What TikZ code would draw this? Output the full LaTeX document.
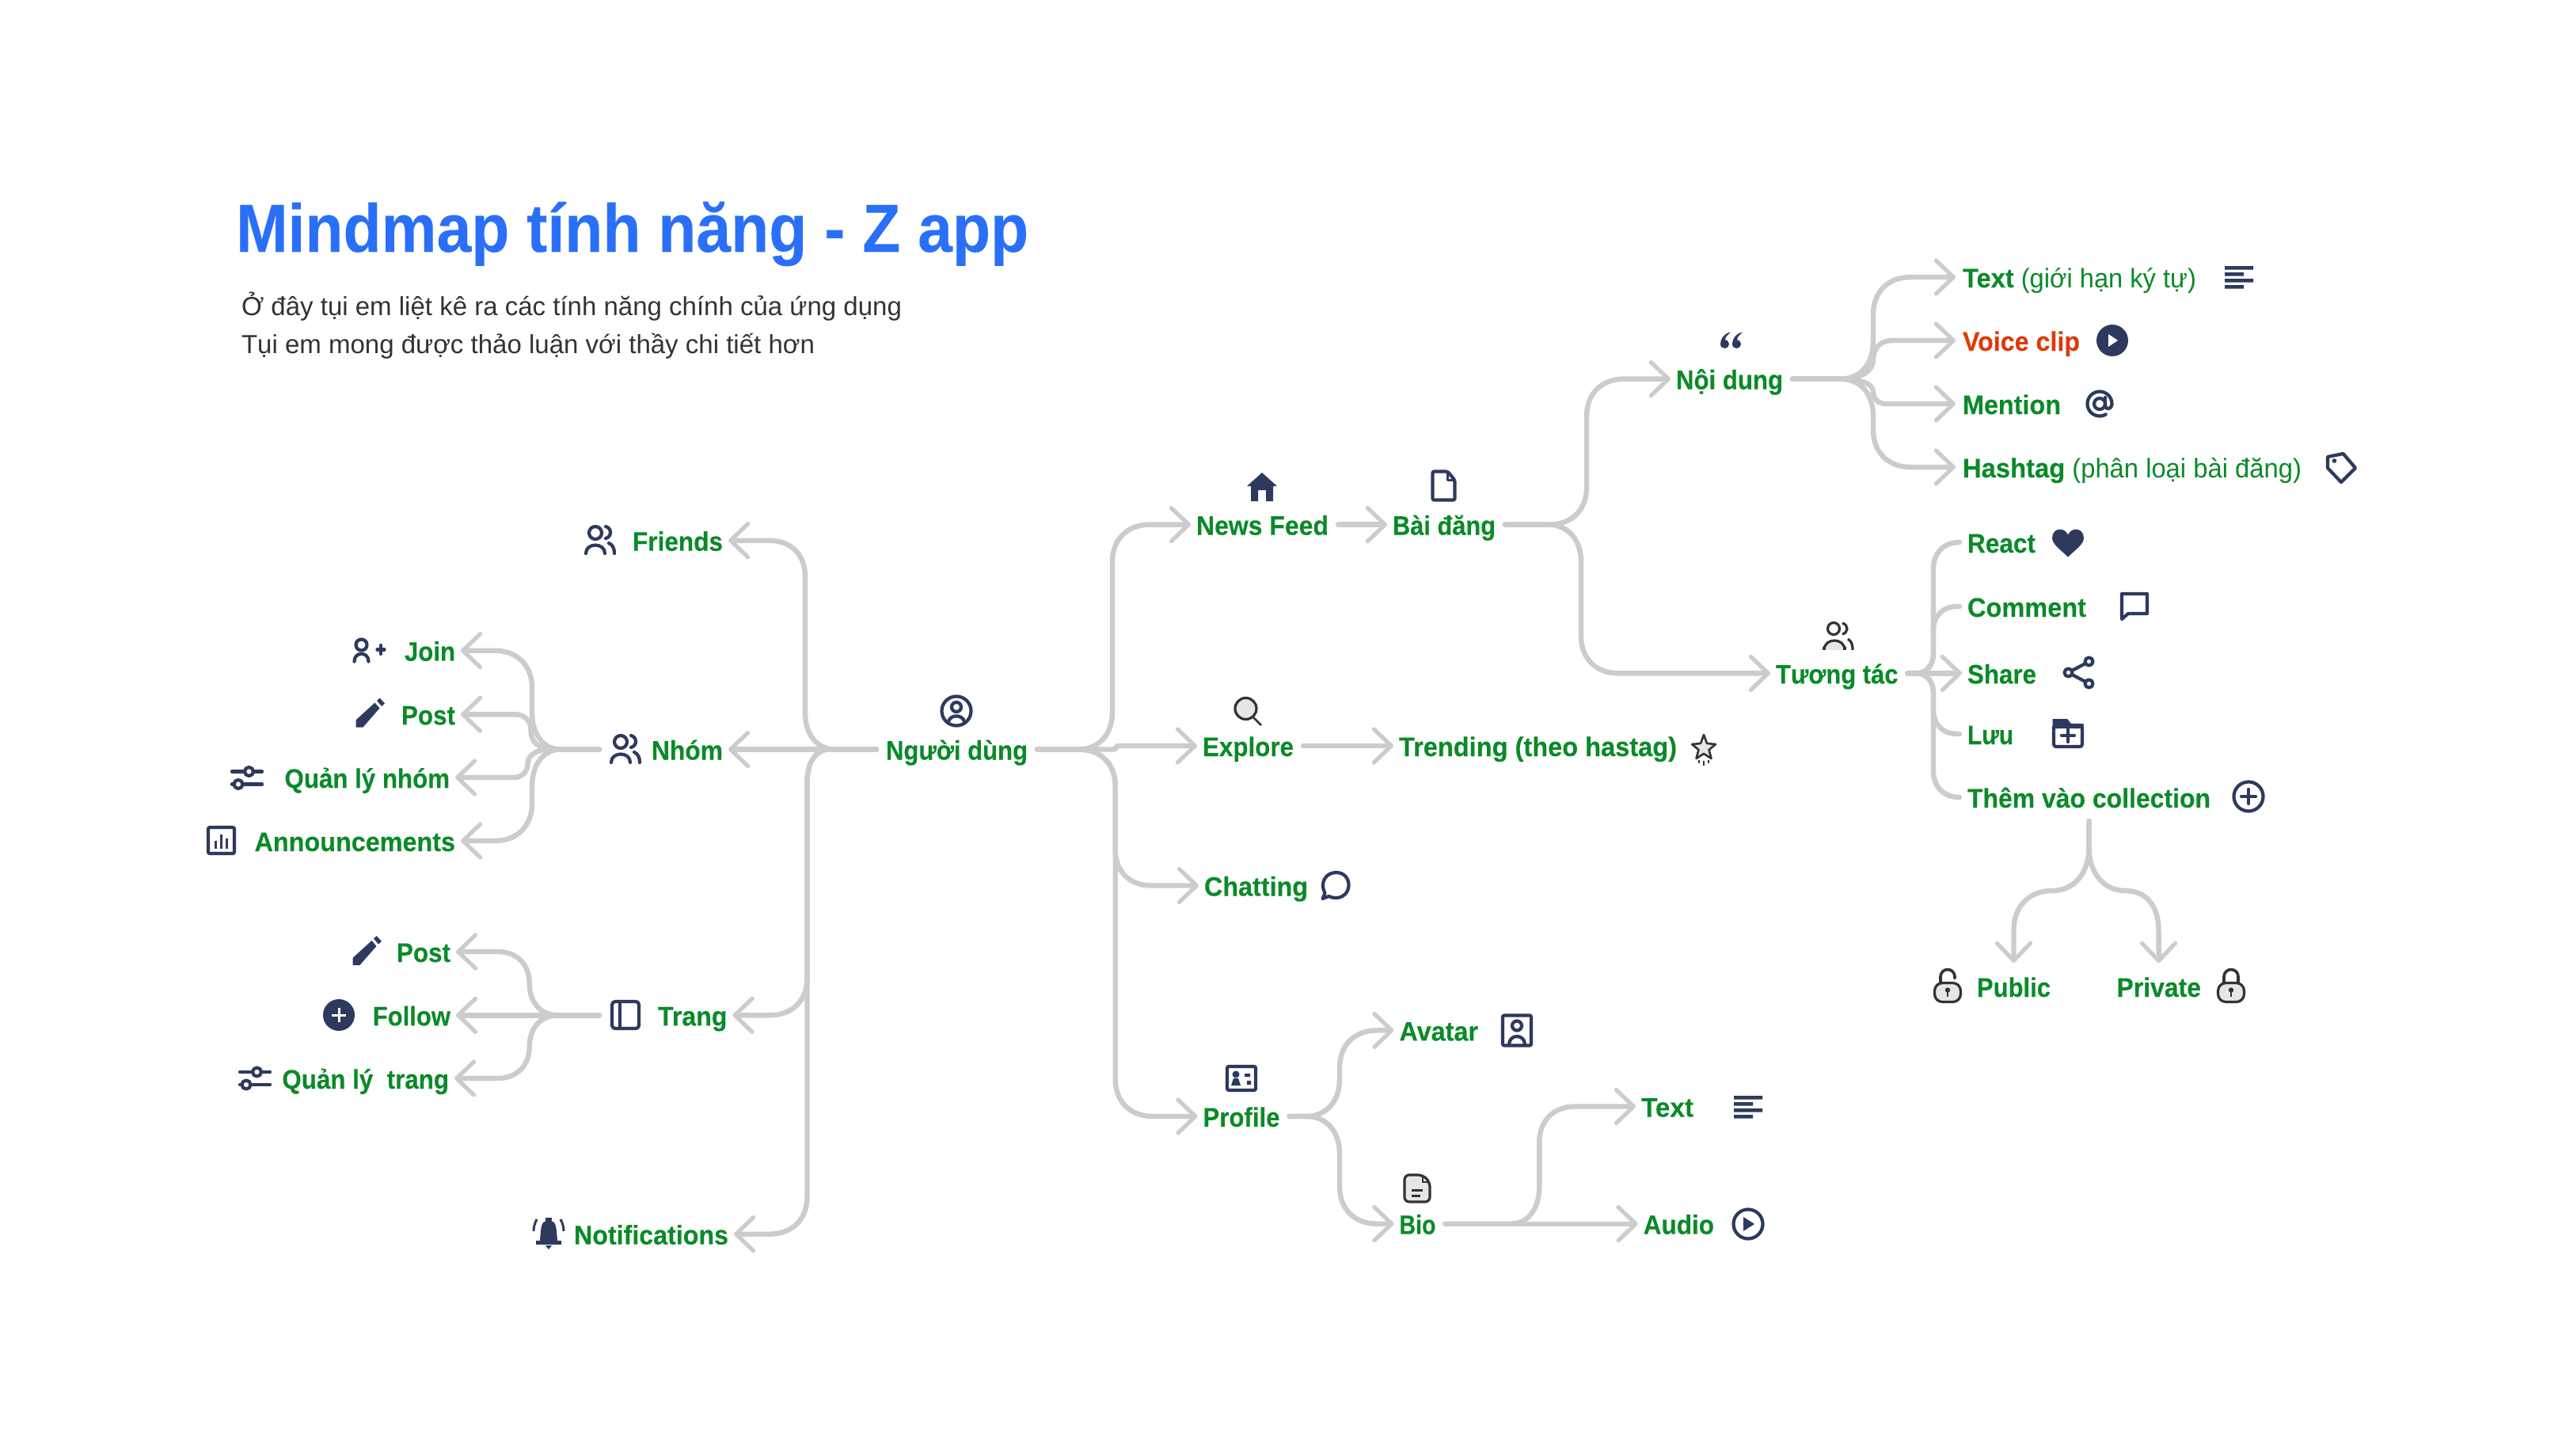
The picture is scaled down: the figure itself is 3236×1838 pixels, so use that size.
\documentclass[tikz,border=0pt]{standalone}
\usepackage{fontspec}
\usepackage{graphicx}
\setmainfont[BoldFeatures={FakeBold=0.12}]{Liberation Sans}
\usetikzlibrary{arrows.meta,calc}
\definecolor{gline}{HTML}{CDCBCB}
\definecolor{gtext}{HTML}{0A8A28}
\definecolor{rtext}{HTML}{DE3A09}
\definecolor{btitle}{HTML}{2A6FF8}
\definecolor{navy}{HTML}{2D3A5E}
\definecolor{dark}{HTML}{333333}
\definecolor{pale}{HTML}{E6E6E6}
\newcommand\fitw[2]{\resizebox{\dimexpr #1pt/2\relax}{\height}{#2}}
\tikzset{
  conn/.style={draw=gline,line width=3.2pt,line cap=round,line join=round,shorten <=2.5pt},
  arrowed/.style={-{Straight Barb[length=11pt,width=21pt,line width=2.6pt,round]}},
  plainend/.style={shorten >=1.5pt},
  lab/.style={inner xsep=3.5pt,inner ysep=0pt,outer sep=0pt,text height=14.5pt,text depth=1.5pt,
    font=\fontsize{17}{20}\selectfont\bfseries,text=gtext},
  titletext/.style={anchor=base west,inner sep=0pt,outer sep=0pt,text=btitle,
    font=\fontsize{43}{48}\selectfont\bfseries},
  subtext/.style={anchor=base west,inner sep=0pt,outer sep=0pt,text=dark,
    font=\fontsize{16.5}{19}\selectfont},
  icl/.style={draw=navy,line width=2.1pt,line cap=round,line join=round},
  icd/.style={draw=dark,line width=1.6pt,fill=pale,line cap=round,line join=round},
}
% label: [options]{name}{text left}{line y}{text width}{text}
\newcommand\lab[6][]{\node[lab,anchor=west,#1] (#2) at (#3-7,#4) {\fitw{#5}{#6}};}
% connector: [style]{from}{to}{vertical x}{first dx}{first ry}{second r}
\newcommand\curv[7][]{%
  \path (#2); \pgfgetlastxy{\mXa}{\mYa}%
  \path (#3); \pgfgetlastxy{\mXb}{\mYb}%
  \pgfmathsetmacro\mSx{\mXb>\mXa?1:-1}%
  \pgfmathsetmacro\mSy{\mYb>\mYa?1:-1}%
  \pgfmathsetmacro\mV{#4/2}%
  \pgfmathsetmacro\mPx{\mV-\mSx*#5/2}%
  \pgfmathsetmacro\mCx{\mV-\mSx*#5/2*0.4}%
  \pgfmathsetmacro\mPy{\mYa+\mSy*#6/2}%
  \pgfmathsetmacro\mCy{\mYa+\mSy*#6/2*0.4}%
  \pgfmathsetmacro\mQy{\mYb-\mSy*#7/2}%
  \pgfmathsetmacro\mDy{\mYb-\mSy*#7/2*0.4}%
  \pgfmathsetmacro\mQx{\mV+\mSx*#7/2}%
  \pgfmathsetmacro\mDx{\mV+\mSx*#7/2*0.4}%
  \draw[conn,#1] (#2) -- (\mPx pt,\mYa) .. controls (\mCx pt,\mYa) and (\mV pt,\mCy pt) .. (\mV pt,\mPy pt)
    -- (\mV pt,\mQy pt) .. controls (\mV pt,\mDy pt) and (\mDx pt,\mYb) .. (\mQx pt,\mYb) -- (#3);
}
% icons
\newcommand\iLines[2]{\begin{scope}[shift={(#1,#2)}]\fill[navy] (-18,-14) rectangle (18,-9.5) (-18,-6) rectangle (6,-1.5) (-18,2) rectangle (18,6.5) (-18,10) rectangle (6,14.5);\end{scope}}
\newcommand\iPeople[2]{\begin{scope}[shift={(#1,#2)}]
  \draw[icl] (-6,-9) circle (8);
  \draw[icl] (-18,17) .. controls (-18,3) and (6,3) .. (6,17);
  \draw[icl] (7,-17) .. controls (15,-15) and (15,-4) .. (7,-2);
  \draw[icl] (11,4) .. controls (16,6) and (18,11) .. (18,17);
\end{scope}}
\newcommand\iPencil[2]{\begin{scope}[shift={(#1,#2)}]
  \fill[navy] (-18,18) -- (-18,9) -- (6,-13) -- (12,-6) -- (-9,18) -- cycle;
  \fill[navy] (8.5,-15.5) -- (12,-19) -- (18.5,-12) -- (14.5,-8.5) -- cycle;
\end{scope}}
\newcommand\iSliders[2]{\begin{scope}[shift={(#1,#2)}]
  \draw[icl] (-19,-8) -- (-3,-8) (8,-8) -- (19,-8);
  \draw[icl] (2.5,-8) circle (5.5);
  \draw[icl] (-11,8) circle (5.5);
  \draw[icl] (-19,8) -- (-17,8) (-4,8) -- (19,8);
\end{scope}}
\newcommand\iLock[3]{\begin{scope}[shift={(#1,#2)}]
  \draw[draw=dark,line width=1.8pt,line cap=round] (-9,-4) -- (-9,-12) arc[start angle=180,end angle=360,radius=9] -- (9,#3);
  \draw[icd,rounded corners=5pt] (-16.5,-4) rectangle (16.5,20);
  \fill[dark] (0,5) circle (3.2);
  \fill[dark] (-1.4,5) rectangle (1.4,13);
\end{scope}}
\begin{document}
\begin{tikzpicture}[x=0.5pt,y=-0.5pt]
\useasboundingbox (0,0) rectangle (3236,1838);
\fill[white] (0,0) rectangle (3236,1838);

% title
\node[titletext] (title) at (298,318) {\fitw{1001}{Mindmap tính năng - Z app}};
\node[subtext] (sub1) at (305,398) {\fitw{834}{Ở đây tụi em liệt kê ra các tính năng chính của ứng dụng}};
\node[subtext] (sub2) at (305,446) {\fitw{724}{Tụi em mong được thảo luận với thầy chi tiết hơn}};

% labels
\lab{root}{1119}{946.5}{179}{Người dùng}
\lab{friends}{799}{682.7}{114}{Friends}
\lab{nhom}{823}{946.5}{90}{Nhóm}
\lab{njoin}{511}{821.7}{64}{Join}
\lab{npost}{507}{902.3}{68}{Post}
\lab{nql}{359.5}{982}{208.5}{Quản lý nhóm}
\lab{nann}{321.6}{1062}{253.4}{Announcements}
\lab{trang}{831}{1282.3}{87.4}{Trang}
\lab{tpost}{501}{1202}{68}{Post}
\lab{tfollow}{470.7}{1282.3}{98.3}{Follow}
\lab{tql}{356.4}{1362}{210.6}{Quản lý\ \ trang}
\lab{notif}{725}{1558.7}{195}{Notifications}
\lab{news}{1511}{662.6}{167}{News Feed}
\lab{bai}{1759}{662.6}{130}{Bài đăng}
\lab{expl}{1519}{942}{115}{Explore}
\lab{trend}{1767}{942}{351}{Trending (theo hastag)}
\lab{chat}{1521}{1118.5}{131}{Chatting}
\lab{prof}{1519.5}{1410}{97}{Profile}
\lab{avatar}{1767.5}{1301.4}{99.5}{Avatar}
\lab{bio}{1767.5}{1545.7}{46}{Bio}
\lab{btext}{2073}{1397.5}{66}{Text}
\lab{audio}{2075.7}{1545.7}{89.3}{Audio}
\lab{noi}{2117}{478.6}{135}{Nội dung}
\lab{ctext}{2479}{350}{295}{Text {\mdseries (giới hạn ký tự)}}
\lab[text=rtext]{voice}{2479}{430}{148}{Voice clip}
\lab{mention}{2479}{510}{124}{Mention}
\lab{hash}{2479}{590}{428}{Hashtag {\mdseries (phân loại bài đăng)}}
\lab{tuong}{2243}{850.4}{154.5}{Tương tác}
\lab{react}{2485}{685}{86}{React}
\lab{comment}{2485}{766}{150}{Comment}
\lab{share}{2485}{850.4}{87}{Share}
\lab{luu}{2485}{927}{58}{Lưu}
\lab{them}{2485}{1007}{307}{Thêm vào collection}
\lab{pub}{2497}{1246}{93}{Public}
\lab{priv}{2673.5}{1246}{106.5}{Private}

% free connector ends
\coordinate (nhomT) at (762,946.5);
\coordinate (trangT) at (762,1282.3);
\coordinate (collB) at ($(them.south)+(0,14)$);
\coordinate (pubT) at ($(pub.north)+(0,-14)$);
\coordinate (privT) at ($(priv.north)+(0,-14)$);

% connectors: left side
\curv[arrowed]{root.west}{friends.east}{1017}{38}{46}{45}
\draw[conn,arrowed] (root.west) -- (nhom.east);
\curv[arrowed]{root.west}{trang.east}{1019.5}{28}{41}{47}
\curv[arrowed]{root.west}{notif.east}{1019.5}{28}{41}{47}
\curv[arrowed]{nhomT}{njoin.east}{672}{36}{47}{47}
\curv[arrowed]{nhomT}{npost.east}{670.6}{28}{22}{20}
\curv[arrowed]{nhomT}{nql.east}{666.6}{28}{18}{18}
\curv[arrowed]{nhomT}{nann.east}{672}{36}{47}{47}
\curv[arrowed]{trangT}{tpost.east}{668.7}{36}{40}{40}
\draw[conn,arrowed] (trangT) -- (tfollow.east);
\curv[arrowed]{trangT}{tql.east}{668.7}{36}{40}{40}
% connectors: right side
\curv[arrowed]{root.east}{news.west}{1405}{43}{47}{47}
\curv[arrowed]{root.east}{expl.west}{1410}{6}{2.2}{2.2}
\curv[arrowed]{root.east}{chat.west}{1408.7}{46}{46}{45}
\curv[arrowed]{root.east}{prof.west}{1408.7}{46}{46}{47}
\draw[conn,arrowed] (news.east) -- (bai.west);
\draw[conn,arrowed] (expl.east) -- (trend.west);
\curv[arrowed]{bai.east}{noi.west}{2004}{47}{47}{47}
\curv[arrowed]{bai.east}{tuong.west}{1997}{42}{47}{47}
\curv[arrowed,shorten >=1pt]{noi.east}{ctext.west}{2366}{41}{47}{47}
\curv[arrowed,shorten >=1pt]{noi.east}{voice.west}{2366}{41}{24}{24}
\curv[arrowed,shorten >=1pt]{noi.east}{mention.west}{2366}{41}{15.7}{15.7}
\curv[arrowed,shorten >=1pt]{noi.east}{hash.west}{2366}{41}{47}{47}
\curv[plainend]{tuong.east}{react.west}{2442}{22}{25}{33}
\curv[plainend]{tuong.east}{comment.west}{2442}{22}{25}{30}
\draw[conn,arrowed] (tuong.east) -- (share.west);
\curv[plainend]{tuong.east}{luu.west}{2442}{22}{25}{30}
\curv[plainend]{tuong.east}{them.west}{2442}{22}{25}{33}
\curv[arrowed]{prof.east}{avatar.west}{1692}{42}{47}{47}
\curv[arrowed]{prof.east}{bio.west}{1692}{42}{47}{47}
\curv[arrowed]{bio.east}{btext.west}{1944.3}{36}{47}{45}
\draw[conn,arrowed] (bio.east) -- (audio.west);
\draw[conn,arrowed,shorten <=0pt] (collB) -- ++(0,33) .. controls +(0,33) and +(27,0) .. ++(-46,55) .. controls +(-30,0) and +(0,-30) .. ++(-49,50) -- (pubT);
\draw[conn,arrowed,shorten <=0pt] (collB) -- ++(0,33) .. controls +(0,33) and +(-27,0) .. ++(46,55) .. controls +(27,0) and +(0,-30) .. ++(42,50) -- (privT);

% ---- icons ----
% user circle
\begin{scope}[shift={(1208,898)}]
  \draw[icl] (0,0) circle (18.5);
  \draw[icl] (0,-5) circle (6);
  \draw[icl] (-10,13.5) .. controls (-8,4) and (8,4) .. (10,13.5);
\end{scope}
% house
\fill[navy,shift={(1594,615)}] (0,-18) -- (19,-1) -- (14,-1) -- (14,18) -- (5,18) -- (5,4) -- (-5,4) -- (-5,18) -- (-14,18) -- (-14,-1) -- (-19,-1) -- cycle;
% document
\begin{scope}[shift={(1823.5,613.5)}]
  \draw[icl,rounded corners=1pt] (-14,-18) -- (5,-18) -- (14,-7) -- (14,18) -- (-14,18) -- cycle;
  \draw[icl,line width=1.5pt] (5,-18) -- (5,-7) -- (14,-7);
\end{scope}
% search
\begin{scope}[shift={(1576,898)}]
  \draw[icd] (-2.5,-3) circle (13.5);
  \draw[draw=dark,line width=1.3pt] (7,8) -- (17,18);
\end{scope}
% star
\begin{scope}[shift={(2152,947)}]
  \draw[icd,line width=1.3pt] (0,-19) -- (4,-8) -- (15,-7) -- (6.5,0) -- (9.5,11) -- (0,5) -- (-9.5,11) -- (-6.5,0) -- (-15,-7) -- (-4,-8) -- cycle;
  \draw[draw=dark,line width=0.8pt] (-6,13) -- (-6,17) (0,14) -- (0,20) (6,13) -- (6,17);
\end{scope}
% chat bubble
\draw[icl,shift={(1686.5,1118)}] (-13,10) .. controls (-20,-3) and (-12,-16) .. (1,-16) .. controls (12,-16) and (17,-8) .. (17,0) .. controls (17,9) and (10,16) .. (1,16) .. controls (-3,16) and (-6,15) .. (-8,14) -- (-16,17) -- cycle;
% avatar
\begin{scope}[shift={(1916,1301.5)}]
  \draw[icl,rounded corners=1pt] (-18,-19) rectangle (18,19);
  \draw[icl] (0,-6) circle (6);
  \draw[icl] (-10,18) .. controls (-10,4) and (10,4) .. (10,18);
\end{scope}
% profile
\begin{scope}[shift={(1568,1362)}]
  \draw[icl,rounded corners=1pt] (-18,-15) rectangle (18,15);
  \fill[navy] (-7,-5) circle (4.5);
  \fill[navy] (-13,9) -- (-1,9) -- (-4,0) -- (-10,0) -- cycle;
  \fill[navy] (4,-6) rectangle (11,-2) (7,3) rectangle (12,8);
\end{scope}
% bio document
\begin{scope}[shift={(1790,1501)}]
  \draw[icd,rounded corners=3pt] (-16,-17) -- (7,-17) -- (16,-8) -- (16,17) -- (-16,17) -- cycle;
  \draw[draw=dark,line width=1.2pt] (7,-17) -- (7,-8) -- (16,-8);
  \draw[draw=dark,line width=1.5pt] (-7,2) -- (7,2) (-7,9) -- (4,9);
\end{scope}
% text bars
\iLines{2828}{350}
\iLines{2208}{1398}
% audio play
\begin{scope}[shift={(2208,1546)}]
  \draw[icl] (0,0) circle (18.5);
  \fill[navy] (-6,-9) -- (8,0) -- (-6,9) -- cycle;
\end{scope}
% voice play
\begin{scope}[shift={(2668,430)}]
  \fill[navy] (0,0) circle (20);
  \fill[white] (-5,-8) -- (7,0) -- (-5,8) -- cycle;
\end{scope}
% at sign
\begin{scope}[shift={(2652,510)}]
  \draw[icl] (0,0) circle (7);
  \draw[icl] (7,-8) -- (7,2) .. controls (7,8) and (15,8) .. (15.5,0) arc[start angle=0,end angle=-300,radius=15.5];
\end{scope}
% tag
\begin{scope}[shift={(2957,591)}]
  \draw[icl] (-17,-14) -- (2.6,-18) -- (18,0) -- (0,18) -- (-17,0) -- cycle;
  \fill[navy] (-8.6,-9) circle (2.8);
\end{scope}
% quote
\begin{scope}[shift={(2186,429.5)}]
  \fill[navy] (-1,-10) .. controls (-8,-8) and (-13,-2) .. (-13,5) .. controls (-13,9) and (-10,10.5) .. (-7.5,10.5) .. controls (-4.5,10.5) and (-2,8) .. (-2,5) .. controls (-2,2) and (-4.5,0) .. (-7,-0.5) .. controls (-6.5,-4) and (-4,-7) .. (-1,-9) -- cycle;
  \fill[navy,xshift=7.5pt] (-1,-10) .. controls (-8,-8) and (-13,-2) .. (-13,5) .. controls (-13,9) and (-10,10.5) .. (-7.5,10.5) .. controls (-4.5,10.5) and (-2,8) .. (-2,5) .. controls (-2,2) and (-4.5,0) .. (-7,-0.5) .. controls (-6.5,-4) and (-4,-7) .. (-1,-9) -- cycle;
\end{scope}
% interaction people
\begin{scope}[shift={(2322,804)}]
  \draw[icd] (-18,17) .. controls (-18,1) and (8,1) .. (8,17);
  \fill[white] (-20,17.2) rectangle (20,20);
  \draw[draw=dark,line width=1.6pt] (-18,17) -- (-18,13) (8,17) -- (8,13);
  \draw[draw=dark,line width=1.6pt,fill=white] (-6,-10) circle (7.5);
  \draw[draw=dark,line width=1.6pt] (5,-17) .. controls (13,-15) and (13,-5) .. (5,-3) (12,3) .. controls (17,6) and (18,11) .. (18,17);
\end{scope}
% heart
\fill[navy,shift={(2612,685.5)}] (0,18) .. controls (-8,10) and (-20,2) .. (-20,-6) .. controls (-20,-13) and (-15,-17) .. (-10,-17) .. controls (-5,-17) and (-1,-13) .. (0,-10) .. controls (1,-13) and (5,-17) .. (10,-17) .. controls (15,-17) and (20,-13) .. (20,-6) .. controls (20,2) and (8,10) .. (0,18) -- cycle;
% comment
\draw[icl,shift={(2696,766)}] (-16,-16) -- (16,-16) -- (16,9) -- (-8,9) -- (-16,16) -- cycle;
% share
\begin{scope}[shift={(2625.5,849.5)}]
  \draw[icl] (-13,0) circle (5) (13,-14) circle (5) (13,14) circle (5);
  \draw[icl] (-8.5,-2.5) -- (8.5,-11.5) (-8.5,2.5) -- (8.5,11.5);
\end{scope}
% folder
\begin{scope}[shift={(2612,926)}]
  \fill[navy] (-19.5,-18) -- (-1,-18) -- (4,-12) -- (19.5,-12) -- (19.5,-6) -- (-19.5,-6) -- cycle;
  \draw[icl,rounded corners=1.5pt] (-18,-10) rectangle (18,17);
  \draw[icl] (-8,3) -- (8,3) (0,-5) -- (0,11);
\end{scope}
% plus outline
\begin{scope}[shift={(2840,1006)}]
  \draw[icl] (0,0) circle (18.5);
  \draw[icl] (-9,0) -- (9,0) (0,-9) -- (0,9);
\end{scope}
% locks
\iLock{2460}{1245.5}{-10}
\iLock{2818}{1245.5}{-4}
% left icons
\iPeople{758}{682}
\iPeople{790}{946}
\begin{scope}[shift={(466.5,821.5)}]
  \draw[icl] (-10,-7) circle (7);
  \draw[icl] (-19,14) .. controls (-19,1) and (-1,1) .. (-1,14);
  \draw[icl] (10,-1) -- (19,-1) (14.5,-6.5) -- (14.5,4.5);
\end{scope}
\iPencil{467.5}{900.5}
\iPencil{463.5}{1201}
\iSliders{312}{982.5}
\iSliders{322}{1362}
\begin{scope}[shift={(279.5,1061.5)}]
  \draw[icl,rounded corners=1pt] (-16.5,-16.5) rectangle (16.5,16.5);
  \draw[draw=navy,line width=1.2pt] (-7,10) -- (-7,0) (0,10) -- (0,-8) (7,10) -- (7,-3);
\end{scope}
\begin{scope}[shift={(428,1282)}]
  \fill[navy] (0,0) circle (20);
  \draw[draw=white,line width=1.5pt] (-9,0) -- (9,0) (0,-9) -- (0,9);
\end{scope}
\begin{scope}[shift={(790,1282)}]
  \draw[icl,rounded corners=2pt] (-17,-17) rectangle (17,17);
  \draw[icl] (-7,-17) -- (-7,17);
\end{scope}
\begin{scope}[shift={(693,1558)}]
  \fill[navy] (-4,-20) rectangle (4,-14);
  \fill[navy] (-6,-15) -- (6,-15) .. controls (10,-12) and (10,-2) .. (11,9) -- (-11,9) .. controls (-10,-2) and (-10,-12) .. (-6,-15) -- cycle;
  \fill[navy] (-16,9) rectangle (16,14);
  \fill[navy] (-4,15) -- (4,15) -- (0,20) -- cycle;
  \draw[draw=navy,line width=1.5pt] (-15,-18) .. controls (-18,-12) and (-19,-8) .. (-19,-3) (15,-18) .. controls (18,-12) and (19,-8) .. (19,-3);
\end{scope}
\end{tikzpicture}
\end{document}
